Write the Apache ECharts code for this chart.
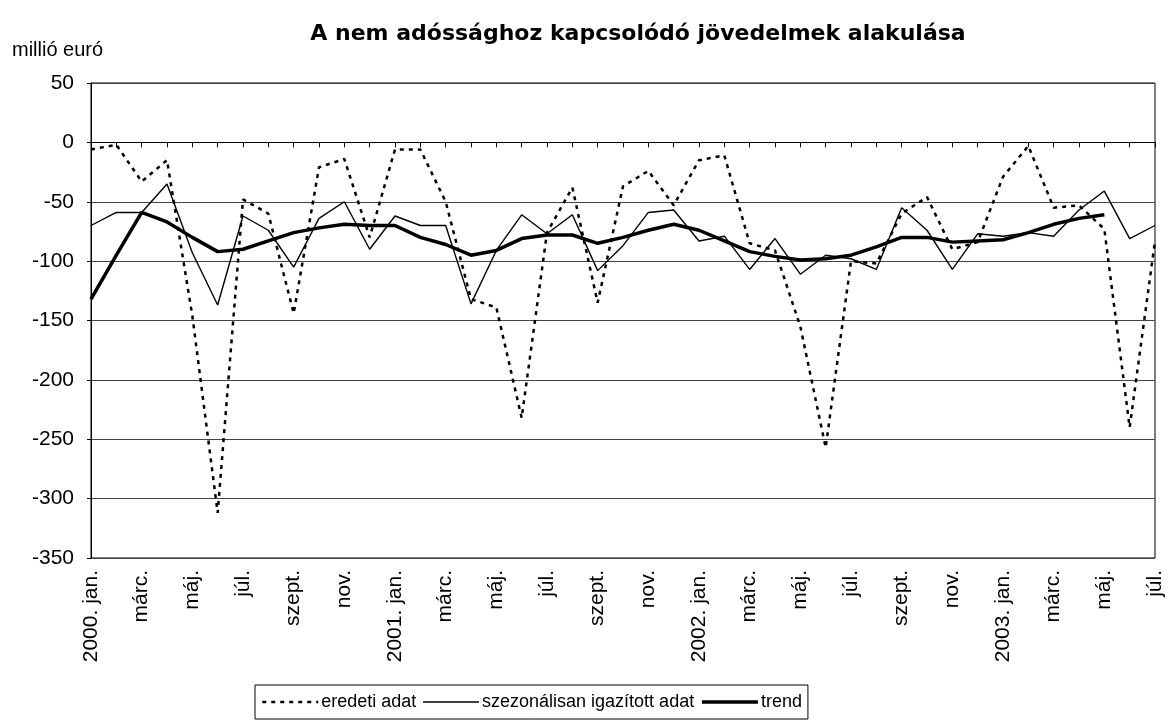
<!DOCTYPE html>
<html>
<head>
<meta charset="utf-8">
<script src="https://cdn.jsdelivr.net/npm/echarts@6/dist/echarts.min.js"></script>
<style>
  html, body { margin: 0; padding: 0; background: #fff; }
  #chart { width: 1168px; height: 725px; }
</style>
</head>
<body>
<div id="chart"></div>
<script>
// havi kategóriák, 2000. jan. - 2003. júl.
var months = [
	'2000. jan.','febr.','márc.','ápr.','máj.','jún.','júl.','aug.','szept.','okt.','nov.','dec.',
	'2001. jan.','febr.','márc.','ápr.','máj.','jún.','júl.','aug.','szept.','okt.','nov.','dec.',
	'2002. jan.','febr.','márc.','ápr.','máj.','jún.','júl.','aug.','szept.','okt.','nov.','dec.',
	'2003. jan.','febr.','márc.','ápr.','máj.','jún.','júl.'
];

var eredeti = [
	-6, -2, -33, -15, -146, -312, -48, -60, -144, -21, -14, -80,
	-6, -6, -50, -132, -139, -232, -76, -38, -135, -37, -24, -53,
	-15, -11, -85, -91, -155, -257, -100, -102, -60, -46, -90, -84,
	-29, -3, -55, -53, -73, -240, -83
];

var szezonalis = [
	-70, -59, -59, -35, -93, -137, -62, -74, -105, -64, -50, -90,
	-62, -70, -70, -136, -91, -61, -77, -61, -108, -87, -59, -57,
	-83, -79, -107, -81, -111, -95, -98, -107, -55, -74, -107, -77,
	-79, -76, -79, -57, -41, -81, -70
];

var trend = [
	-132, -95, -59, -67, -80, -92, -90, -83, -76, -72, -69, -70,
	-70, -80, -86, -95, -91, -81, -78, -78, -85, -80, -74, -69,
	-74, -83, -92, -96, -99, -98, -95, -88, -80, -80, -84, -83,
	-82, -76, -69, -64, -61, null, null
];

var yTicks = { min: -350, max: 50, step: 50 };

var chart = echarts.init(document.getElementById('chart'));
var font = 'Liberation Sans, Arial, sans-serif';

var option = {
	backgroundColor: '#fff',
	textStyle: { fontFamily: font, color: '#000' },
	title: {
		text: 'A nem adóssághoz kapcsolódó jövedelmek alakulása',
		left: 633, textAlign: 'center', top: 18,
		textStyle: { fontFamily: 'DejaVu Sans', fontWeight: 'bold', fontSize: 22, color: '#000' }
	},
	graphic: [{
		type: 'text', left: 12, top: 40,
		style: { text: 'millió euró', font: '20px ' + font, fill: '#000' }
	}],
	legend: {
		left: 255, top: 685,
		padding: [8, 6],
		itemWidth: 56, itemHeight: 14, itemGap: 6,
		borderColor: '#000', borderWidth: 1,
		itemStyle: { opacity: 0 },
		textStyle: { fontFamily: font, fontSize: 18, color: '#000', padding: [0, 0, 0, -2] },
		data: [
			{ name: 'eredeti adat', lineStyle: { width: 2.5 } },
			{ name: 'szezonálisan igazított adat', lineStyle: { width: 1.4 } },
			{ name: 'trend', lineStyle: { width: 3.5 } }
		]
	},
	grid: {
		left: 91, right: 13, top: 83, bottom: 167,
		show: true, borderColor: '#000', borderWidth: 1
	},
	xAxis: [{
		type: 'category', data: months, boundaryGap: false,
		axisLine: { show: false, onZero: false },
		axisTick: { show: false },
		axisLabel: { interval: 1, rotate: 90, margin: 12, fontSize: 21, color: '#000', fontFamily: font }
	}, {
		type: 'category', data: months, boundaryGap: false, position: 'bottom',
		axisLine: { show: true, onZero: true, lineStyle: { color: '#000', width: 1 } },
		axisTick: { show: true, interval: 0, length: 5, lineStyle: { color: '#000' } },
		axisLabel: { show: false }
	}],
	yAxis: {
		type: 'value', min: yTicks.min, max: yTicks.max, interval: yTicks.step,
		axisLine: { show: true, lineStyle: { color: '#000' } },
		axisTick: { show: true, length: 4, lineStyle: { color: '#000' } },
		axisLabel: { fontSize: 21, color: '#000', margin: 17, fontFamily: font },
		splitLine: { lineStyle: { color: '#444', width: 1 } }
	},
	series: [
		{
			name: 'eredeti adat', type: 'line', data: eredeti, symbol: 'none',
			lineStyle: { color: '#000', width: 2.5, type: [4, 5], cap: 'butt' },
			itemStyle: { color: '#000' }
		},
		{
			name: 'szezonálisan igazított adat', type: 'line', data: szezonalis, symbol: 'none',
			lineStyle: { color: '#000', width: 1.4 },
			itemStyle: { color: '#000' }
		},
		{
			name: 'trend', type: 'line', data: trend, symbol: 'none',
			lineStyle: { color: '#000', width: 3.5 },
			itemStyle: { color: '#000' }
		}
	]
};

chart.setOption(option);
</script>
</body>
</html>
